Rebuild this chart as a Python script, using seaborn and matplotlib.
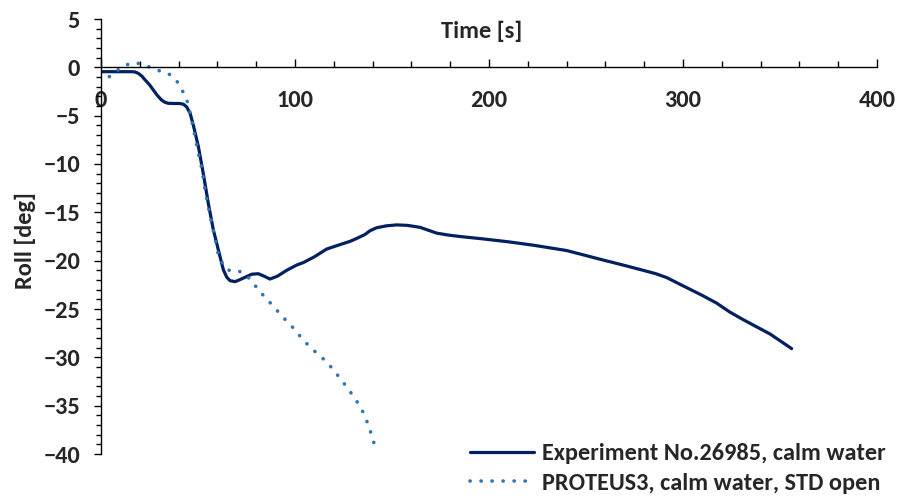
import matplotlib
matplotlib.use("Agg")
import matplotlib.pyplot as plt
import seaborn as sns
import pandas as pd
from matplotlib.ticker import MultipleLocator
from matplotlib.font_manager import FontProperties, fontManager

sns.set_theme(style="white")
plt.rcParams['font.family'] = 'Carlito'
plt.rcParams['font.weight'] = 'bold'

# locate the bold Carlito file explicitly
bold_file = None
for f in fontManager.ttflist:
    if f.name == 'Carlito' and f.weight == 700 and f.style == 'normal':
        bold_file = f.fname
FS = 17.5
fp = FontProperties(fname=bold_file, size=FS) if bold_file else FontProperties(family='Carlito', weight='bold', size=FS)

# Experiment No.26985 (time [s], roll [deg])
exp_time = [0.3, 5, 10, 15.8, 17.5, 19.2, 21, 22.7, 25, 27, 29, 31.2, 33, 34.7, 38, 40.7, 42.5,
            44.2, 46, 47.6, 50.2, 52.7, 55.3, 57.9, 60.5, 63.1, 64.8, 66.5, 69.1, 71.2, 73.4,
            77.7, 81.1, 84, 87.1, 91, 95.7, 100.9, 104.3, 110, 116.3, 121.5, 128.4, 131.8,
            136, 138.7, 142, 147, 152.4, 158, 164.4, 168, 173, 179, 185, 197, 210, 222.8, 240,
            257.2, 270, 279.5, 286, 291.6, 300, 310, 317.4, 324, 331, 345, 356]
exp_roll = [-0.45, -0.45, -0.45, -0.45, -0.48, -0.62, -0.9, -1.3, -1.8, -2.35, -2.9, -3.38, -3.62,
            -3.72, -3.74, -3.74, -3.82, -4.1, -4.8, -6.0, -8.2, -10.96, -14.06, -16.8, -18.9,
            -20.96, -21.7, -22.07, -22.17, -22.0, -21.8, -21.4, -21.35, -21.6, -21.9, -21.6,
            -21.0, -20.45, -20.2, -19.6, -18.8, -18.45, -18.0, -17.7, -17.3, -16.9, -16.6,
            -16.4, -16.3, -16.35, -16.55, -16.8, -17.15, -17.35, -17.5, -17.75, -18.05, -18.4,
            -18.95, -19.85, -20.5, -21.0, -21.35, -21.75, -22.6, -23.6, -24.4, -25.3, -26.1,
            -27.6, -29.1]

# PROTEUS3, calm water, STD open
sim_time = [4.3, 7.6, 11, 14.6, 18.7, 22.7, 26.4, 30.4, 34.2, 37.8, 40, 41.6, 43.6, 45, 46.7,
            48.5, 50.2, 51.9, 53.6, 55.3, 57, 58.8, 60.5, 62.2, 63.9, 67, 71, 75.1, 77.7, 80.2,
            82.8, 88.3, 93.6, 99.3, 104.6, 110.3, 116.5, 121.8, 126.8, 131.4, 135.6, 138.5,
            140.9, 142.1]
sim_roll = [-0.97, -0.45, 0.06, 0.37, 0.44, 0.2, -0.07, -0.38, -0.59, -1.07, -1.7, -2.3, -3.0,
            -3.9, -5.45, -7.2, -8.9, -10.4, -12.7, -14.4, -16.1, -17.7, -19.4, -20.1, -20.8,
            -21.07, -21.07, -21.5, -22.2, -22.75, -23.4, -24.6, -25.8, -27.0, -28.3, -29.4,
            -30.5, -31.8, -33.1, -34.4, -35.85, -37.4, -39.0, -39.75]

labels = ["Experiment No.26985, calm water", "PROTEUS3, calm water, STD open"]
colors = ["#002060", "#2E75B6"]

df_exp = pd.DataFrame({"Time": exp_time, "Roll": exp_roll})
df_sim = pd.DataFrame({"Time": sim_time, "Roll": sim_roll})

fig = plt.figure(figsize=(8.98, 4.97), dpi=100)
ax = fig.add_axes([101/898, 43/497, 776/898, 435/497])

sns.lineplot(data=df_exp, x="Time", y="Roll", ax=ax, color=colors[0], linewidth=2.3,
             estimator=None, sort=False, label=labels[0], solid_joinstyle='round')
sns.lineplot(data=df_sim, x="Time", y="Roll", ax=ax, color=colors[1], linewidth=2.6,
             estimator=None, sort=False, label=labels[1],
             linestyle=(0, (0.05, 3.0)), dash_capstyle='round')

ax.set_xlim(0, 400)
ax.set_ylim(-40, 5)
ax.xaxis.set_major_locator(MultipleLocator(100))
ax.xaxis.set_minor_locator(MultipleLocator(20))
ax.yaxis.set_major_locator(MultipleLocator(5))
ax.yaxis.set_minor_locator(MultipleLocator(1))

for s in ["top", "right"]:
    ax.spines[s].set_visible(False)
ax.spines["bottom"].set_position(("data", 0))
for s in ["left", "bottom"]:
    ax.spines[s].set_color("#000000")
    ax.spines[s].set_linewidth(1.0)

ax.tick_params(axis="x", which="major", direction="in", length=6, width=1, color="black",
               pad=16, bottom=True)
ax.tick_params(axis="x", which="minor", direction="in", length=4, width=1, color="black", bottom=True)
ax.tick_params(axis="y", which="major", direction="out", length=5, width=1, color="black",
               pad=10, left=True)
ax.tick_params(axis="y", which="minor", direction="out", length=3.5, width=1, color="black", left=True)
fig.canvas.draw()
for t in ax.get_xticklabels() + ax.get_yticklabels():
    t.set_fontproperties(fp)

ax.set_xlabel("Time [s]", fontproperties=fp)
ax.xaxis.set_label_coords(0.49, 0.972)
ax.xaxis.label.set_va("center")
ax.set_ylabel("Roll [deg]", fontproperties=fp)
ax.yaxis.set_label_coords(-0.098, 0.49)
ax.yaxis.label.set_va("center")
ax.grid(False)

ax.get_legend().remove()
handles, lbls = ax.get_legend_handles_labels()
fig.legend(handles, lbls, loc="center left", bbox_to_anchor=(470/898, 1 - 468.5/497),
           frameon=False, handlelength=2.65, handletextpad=0.3,
           borderpad=0, borderaxespad=0, labelspacing=0.35, prop=fp)

fig.savefig("out.png", dpi=100)
